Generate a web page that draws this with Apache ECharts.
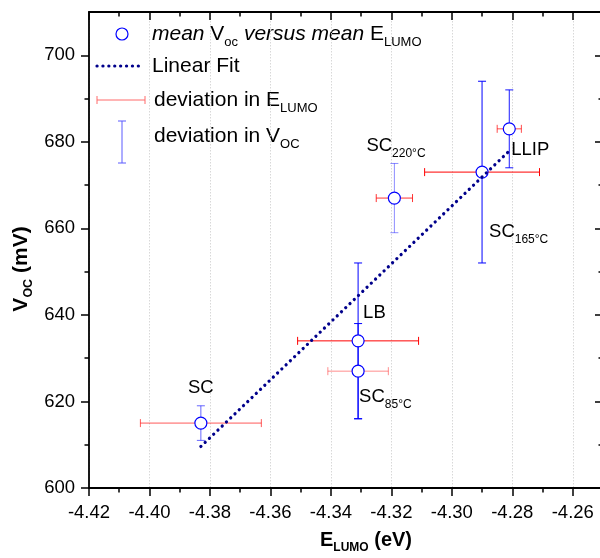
<!DOCTYPE html>
<html>
<head>
<meta charset="utf-8">
<script src="https://cdn.jsdelivr.net/npm/echarts@6/dist/echarts.min.js"></script>
<style>
  html, body { margin: 0; padding: 0; background: #ffffff; }
  #chart { width: 600px; height: 558px; }
</style>
</head>
<body>
<div id="chart"></div>
<script>
// Samples: mean LUMO energy (eV) against mean open-circuit voltage (mV)
const sampleNames  = ['SC', 'LB', 'SC85', 'SC220', 'SC165', 'LLIP'];
const sampleLabels = ['SC', 'LB', 'SC{sub|85°C}', 'SC{sub|220°C}', 'SC{sub|165°C}', 'LLIP'];
const eLumo    = [-4.383, -4.331, -4.331, -4.319, -4.290, -4.281];
const vOc      = [615, 634, 627, 667, 673, 683];
const eLumoDev = [0.020, 0.020, 0.010, 0.006, 0.019, 0.004];
const vOcDev   = [4, 18, 11, 8, 21, 9];

// Linear fit end points
const fitE = [-4.383, -4.281];
const fitV = [609.6, 677.9];

// Axis ticks
const xMajorTicks = [-4.42, -4.40, -4.38, -4.36, -4.34, -4.32, -4.30, -4.28, -4.26];
const xMinorTicks = [-4.41, -4.39, -4.37, -4.35, -4.33, -4.31, -4.29, -4.27];
const yMajorTicks = [600, 620, 640, 660, 680, 700];
const yMinorTicks = [610, 630, 650, 670, 690];

// Where each point's name sits relative to its marker
const labelPlacement = [
  { align: 'center', offset: [0, -35] },
  { align: 'left',   offset: [5, -28] },
  { align: 'left',   offset: [1, 26] },
  { align: 'left',   offset: [-28, -52] },
  { align: 'left',   offset: [7, 60] },
  { align: 'left',   offset: [2, 21] }
];

// Stroke strength of each point's error bars
const hBarOpacity = [0.65, 1, 0.45, 0.8, 1, 0.7];
const vBarOpacity = [0.6, 1, 1, 0.45, 1, 0.9];

const FONT = "'Liberation Sans', Arial, sans-serif";
const X_MIN = -4.42, X_MAX = -4.25, Y_MIN = 600, Y_MAX = 710;
const GRID = { left: 89, top: 12, width: 514, height: 476 };
const AXIS_LINE = { color: '#000', width: 1.8 };
const BLUE = '#0000ff', RED = '#ff0000', NAVY = '#00008b';

function xAxis(gridIndex, position, ticks, len, inside, withLabels) {
  return {
    type: 'value', gridIndex, position, min: X_MIN, max: X_MAX, interval: 0.02,
    axisLine: { show: len > 5, onZero: false, lineStyle: AXIS_LINE },
    axisTick: { show: true, customValues: ticks, length: len, inside, lineStyle: { color: '#000', width: 1.5 } },
    axisLabel: withLabels ? {
      show: true, customValues: ticks, margin: 15, color: '#000', fontFamily: FONT, fontSize: 18.5,
      formatter: v => Number(v).toFixed(2)
    } : { show: false },
    splitLine: withLabels ? { show: true, lineStyle: { color: '#d4d4d4', width: 0.9, type: [1.5, 1.5] } } : { show: false }
  };
}
function yAxis(gridIndex, position, ticks, len, inside, withLabels) {
  return {
    type: 'value', gridIndex, position, min: Y_MIN, max: Y_MAX, interval: 20,
    axisLine: { show: len > 5, onZero: false, lineStyle: AXIS_LINE },
    axisTick: { show: true, customValues: ticks, length: len, inside, lineStyle: { color: '#000', width: 1.5 } },
    axisLabel: withLabels ? {
      show: true, customValues: ticks, margin: 14, color: '#000', fontFamily: FONT, fontSize: 18.5
    } : { show: false },
    splitLine: { show: false }
  };
}

// Error bar drawing: horizontal (E_LUMO) or vertical (V_OC)
const CAP = 4;
function errorBarRenderer(horizontal, color, opacities) {
  return function (params, api) {
    const x = api.value(0), y = api.value(1), d = api.value(2);
    const a = horizontal ? api.coord([x - d, y]) : api.coord([x, y - d]);
    const b = horizontal ? api.coord([x + d, y]) : api.coord([x, y + d]);
    const style = { stroke: color, lineWidth: 1, opacity: opacities[params.dataIndex] };
    const cap = p => horizontal
      ? { type: 'line', shape: { x1: p[0], y1: p[1] - CAP, x2: p[0], y2: p[1] + CAP }, style }
      : { type: 'line', shape: { x1: p[0] - CAP, y1: p[1], x2: p[0] + CAP, y2: p[1] }, style };
    return {
      type: 'group',
      children: [
        { type: 'line', shape: { x1: a[0], y1: a[1], x2: b[0], y2: b[1] }, style },
        cap(a), cap(b)
      ]
    };
  };
}

const subStyle = { fontFamily: FONT, fontSize: 12, color: '#000', padding: [16, 0, 0, 0] };

const pointData = eLumo.map((e, i) => ({
  name: sampleNames[i],
  value: [e, vOc[i]],
  label: { formatter: sampleLabels[i], align: labelPlacement[i].align, offset: labelPlacement[i].offset }
}));

// Legend, drawn as graphics in the upper-left corner of the plot
const LEGEND_SIZE = 21;
const legendTextStyle = { fontFamily: FONT, fontSize: LEGEND_SIZE, fill: '#000', verticalAlign: 'middle', align: 'left' };
const legendRich = {
  i: { fontFamily: FONT, fontSize: LEGEND_SIZE, fontStyle: 'italic', fill: '#000' },
  s: { fontFamily: FONT, fontSize: 13, fill: '#000', padding: [17, 0, 0, 0] }
};
const legendGraphics = [
  { type: 'circle', shape: { cx: 122, cy: 34, r: 6 }, style: { fill: '#fff', stroke: BLUE, lineWidth: 1.2 } },
  { type: 'text', x: 152, y: 34, style: Object.assign({ text: '{i|mean} V{s|oc} {i|versus mean} E{s|LUMO}', rich: legendRich }, legendTextStyle) },
  { type: 'line', shape: { x1: 97, y1: 66, x2: 144, y2: 66 }, style: { stroke: NAVY, lineWidth: 3.2, lineDash: [0.1, 5.8], lineCap: 'round' } },
  { type: 'text', x: 152, y: 66, style: Object.assign({ text: 'Linear Fit', rich: legendRich }, legendTextStyle) },
  { type: 'line', shape: { x1: 97, y1: 100, x2: 145, y2: 100 }, style: { stroke: '#ff6a6a', lineWidth: 1 } },
  { type: 'line', shape: { x1: 97, y1: 96, x2: 97, y2: 104 }, style: { stroke: '#ff6a6a', lineWidth: 1 } },
  { type: 'line', shape: { x1: 145, y1: 96, x2: 145, y2: 104 }, style: { stroke: '#ff6a6a', lineWidth: 1 } },
  { type: 'text', x: 154, y: 100, style: Object.assign({ text: 'deviation in E{s|LUMO}', rich: legendRich }, legendTextStyle) },
  { type: 'line', shape: { x1: 122, y1: 121, x2: 122, y2: 163 }, style: { stroke: '#5a5aff', lineWidth: 1 } },
  { type: 'line', shape: { x1: 118, y1: 121, x2: 126, y2: 121 }, style: { stroke: '#5a5aff', lineWidth: 1 } },
  { type: 'line', shape: { x1: 118, y1: 163, x2: 126, y2: 163 }, style: { stroke: '#5a5aff', lineWidth: 1 } },
  { type: 'text', x: 154, y: 136, style: Object.assign({ text: 'deviation in V{s|OC}', rich: legendRich }, legendTextStyle) }
];

// Axis titles
const titleRich = {
  b: { fontFamily: FONT, fontSize: 20, fontWeight: 'bold', fill: '#000' },
  bs: { fontFamily: FONT, fontSize: 12, fontWeight: 'bold', fill: '#000', padding: [16, 0, 0, 0] },
  by: { fontFamily: FONT, fontSize: 21, fontWeight: 'bold', fill: '#000' },
  bys: { fontFamily: FONT, fontSize: 12.5, fontWeight: 'bold', fill: '#000', padding: [16, 0, 0, 0] }
};
const titleGraphics = [
  { type: 'text', x: 366, y: 540, style: { text: '{b|E}{bs|LUMO}{b| (eV)}', rich: titleRich, align: 'center', verticalAlign: 'middle' } },
  { type: 'text', x: 21, y: 269, rotation: Math.PI / 2, style: { text: '{by|V}{bys|OC}{by| (mV)}', rich: titleRich, align: 'center', verticalAlign: 'middle' } }
];

const chart = echarts.init(document.getElementById('chart'), null, { renderer: 'canvas' });
chart.setOption({
  animation: false,
  backgroundColor: '#fff',
  grid: [
    Object.assign({ outerBoundsMode: 'none', containLabel: false }, GRID),
    Object.assign({ outerBoundsMode: 'none', containLabel: false }, GRID)
  ],
  xAxis: [
    xAxis(0, 'bottom', xMajorTicks, 8, false, true),
    xAxis(0, 'top', xMajorTicks, 8, true, false),
    xAxis(1, 'bottom', xMinorTicks, 4.5, false, false),
    xAxis(1, 'top', xMinorTicks, 4.5, true, false)
  ],
  yAxis: [
    yAxis(0, 'left', yMajorTicks, 8, false, true),
    yAxis(0, 'right', yMajorTicks, 8, true, false),
    yAxis(1, 'left', yMinorTicks, 4.5, false, false),
    yAxis(1, 'right', yMinorTicks, 4.5, true, false)
  ],
  series: [
    {
      type: 'custom', name: 'deviation in ELUMO', xAxisIndex: 0, yAxisIndex: 0, z: 2,
      data: eLumo.map((e, i) => [e, vOc[i], eLumoDev[i]]),
      renderItem: errorBarRenderer(true, RED, hBarOpacity)
    },
    {
      type: 'custom', name: 'deviation in VOC', xAxisIndex: 0, yAxisIndex: 0, z: 2,
      data: eLumo.map((e, i) => [e, vOc[i], vOcDev[i]]),
      renderItem: errorBarRenderer(false, BLUE, vBarOpacity)
    },
    {
      type: 'scatter', name: 'mean Voc versus mean ELUMO', xAxisIndex: 0, yAxisIndex: 0, z: 3,
      symbol: 'circle', symbolSize: 12,
      itemStyle: { color: '#fff', borderColor: BLUE, borderWidth: 1.2, opacity: 1 },
      label: {
        show: true, position: 'inside', verticalAlign: 'middle', color: '#000',
        fontFamily: FONT, fontSize: 18.5,
        rich: { sub: subStyle }
      },
      data: pointData
    },
    {
      type: 'line', name: 'Linear Fit', xAxisIndex: 0, yAxisIndex: 0, z: 4,
      symbol: 'none', showSymbol: false,
      lineStyle: { color: NAVY, width: 3.2, type: [0.1, 5.8], cap: 'round' },
      data: fitE.map((e, i) => [e, fitV[i]])
    }
  ],
  graphic: legendGraphics.concat(titleGraphics)
});
</script>
</body>
</html>
